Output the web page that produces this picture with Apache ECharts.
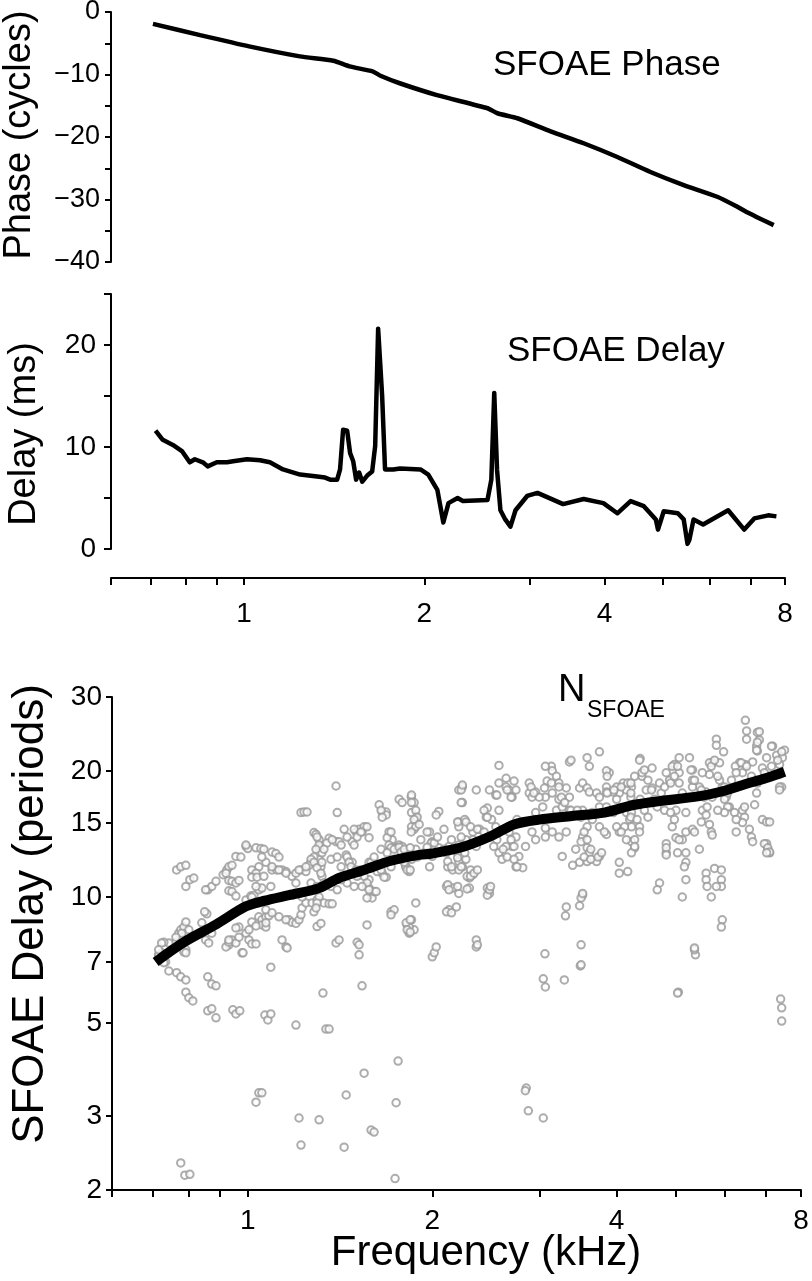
<!DOCTYPE html>
<html>
<head>
<meta charset="utf-8">
<script src="https://cdn.jsdelivr.net/npm/echarts@6/dist/echarts.min.js"></script>
<style>
html,body{margin:0;padding:0;background:#fff;}
#chart{width:812px;height:1281px;}
</style>
</head>
<body>
<div id="chart"></div>
<script>
// ---------- data ----------
const freqTicks = [0.6, 0.7, 0.8, 0.9, 1, 2, 3, 4, 5, 6, 7, 8];
const freqLabels = [1, 2, 4, 8];
const periodTicks = [2, 3, 5, 7, 10, 15, 20, 30];

const phaseFreq = [0.705, 0.845, 1.02, 1.24, 1.41, 1.50, 1.64, 1.69, 1.82, 2.10, 2.55, 2.65, 2.86, 3.25, 3.69, 4.2, 4.77, 5.42, 6.18, 6.67, 6.9, 7.66];
const phaseCycles = [-1.9, -3.7, -5.5, -7.1, -7.8, -8.7, -9.5, -10.2, -11.4, -13.3, -15.4, -16.2, -17.0, -19.1, -21.0, -23.2, -25.6, -27.7, -29.6, -31.2, -32.0, -34.1];

const delayFreq = [0.712, 0.732, 0.761, 0.788, 0.812, 0.828, 0.854, 0.870, 0.901, 0.937, 0.959, 1.012, 1.064, 1.105, 1.162, 1.241, 1.325, 1.366, 1.393, 1.431, 1.447, 1.464, 1.487, 1.504, 1.522, 1.539, 1.557, 1.576, 1.606, 1.637, 1.656, 1.675, 1.701, 1.720, 1.775, 1.823, 1.971, 2.031, 2.103, 2.152, 2.195, 2.273, 2.32, 2.55, 2.588, 2.617, 2.645, 2.68, 2.73, 2.785, 2.84, 2.97, 3.09, 3.41, 3.69, 3.98, 4.2, 4.42, 4.65, 4.87, 4.91, 5.02, 5.30, 5.42, 5.50, 5.54, 5.63, 5.84, 6.43, 6.84, 7.11, 7.50, 7.74];
const delayMs = [11.6, 10.7, 10.2, 9.6, 8.5, 8.8, 8.5, 8.1, 8.5, 8.5, 8.6, 8.8, 8.7, 8.5, 7.8, 7.3, 7.1, 7.0, 6.8, 6.8, 7.8, 11.7, 11.6, 9.4, 8.6, 6.8, 7.5, 6.6, 7.2, 7.6, 10.1, 21.6, 15.0, 7.8, 7.8, 7.9, 7.8, 7.3, 5.8, 2.6, 4.5, 5.0, 4.7, 4.8, 6.8, 15.3, 7.8, 3.8, 2.9, 2.2, 3.8, 5.2, 5.5, 4.4, 4.9, 4.5, 3.5, 4.7, 4.2, 2.9, 1.9, 3.7, 3.5, 2.9, 0.5, 0.9, 2.9, 2.4, 3.8, 1.9, 3.0, 3.3, 3.2];

const trendFreq = [0.707, 0.786, 0.887, 0.993, 1.066, 1.167, 1.307, 1.409, 1.548, 1.713, 1.904, 2.0, 2.256, 2.5, 2.72, 2.99, 3.38, 3.82, 4.2, 4.52, 5.46, 5.89, 6.5, 7.0, 7.52];
const trendPeriods = [7.0, 7.8, 8.6, 9.5, 9.8, 10.1, 10.5, 11.1, 11.6, 12.2, 12.6, 12.7, 13.2, 14.0, 14.9, 15.3, 15.6, 15.9, 16.5, 16.8, 17.4, 17.8, 18.6, 19.2, 19.9];

const scatterPoints = [
[0.765,11.6],[0.777,11.8],[0.792,11.9],[0.792,10.6],[0.804,11.0],[0.816,11.1],[0.86,10.4],[0.873,10.6],[0.887,10.9],[0.911,11.3],
[0.924,11.6],[0.931,11.8],[0.942,11.9],[0.956,12.5],[0.974,12.45],[0.993,13.2],[1.0,13.05],[1.031,13.1],[1.05,13.05],[1.062,13.0],
[1.095,12.8],[1.111,12.7],[1.124,12.45],[1.07,12.1],[1.042,11.8],[1.015,11.6],[1.031,11.4],[1.015,11.15],[1.035,11.15],[1.062,11.2],
[0.931,10.95],[0.942,10.9],[0.956,10.8],[0.967,10.95],[0.931,10.35],[0.942,10.3],[0.956,10.05],[0.993,9.84],[1.011,10.05],[1.023,10.1],
[1.042,10.4],[1.054,10.5],[1.09,10.6],[1.095,11.6],[1.115,11.6],[1.137,11.6],[1.154,11.5],[1.18,11.2],[1.198,11.4],[1.221,11.6],
[1.244,11.5],[1.268,12.1],[1.287,12.15],[1.307,12.3],[1.316,11.8],[1.282,14.25],[1.292,14.1],[1.307,13.7],[1.307,13.1],[1.321,12.75],
[1.321,11.2],[1.357,13.8],[1.393,13.55],[1.409,13.55],[1.393,18.4],[1.399,15.9],[1.221,15.9],[1.235,15.95],[1.249,15.95],[1.447,12.6],
[1.463,12.15],[1.48,13.55],[1.502,14.3],[1.519,14.5],[1.536,14.3],[1.548,14.7],[1.565,14.7],[1.638,16.6],[1.657,15.95],[1.682,15.95],
[1.682,15.7],[1.766,17.1],[1.786,16.8],[1.848,17.3],[1.868,16.8],[1.88,15.5],[1.868,14.5],[1.70,14.3],[1.72,13.7],[1.766,13.3],
[1.746,13.1],[1.786,13.2],[1.834,12.45],[1.813,11.8],[1.834,11.5],[1.657,11.4],[1.682,11.15],[1.626,11.5],[1.577,11.0],[1.56,10.6],
[1.577,10.5],[1.589,10.2],[1.595,9.95],[1.565,9.95],[1.607,10.3],[1.519,11.3],[1.491,11.4],[1.48,12.1],[1.577,12.1],[1.595,11.9],
[1.167,8.82],[1.18,8.7],[1.198,8.65],[1.212,8.82],[1.221,9.07],[1.226,9.42],[1.244,9.68],[1.273,9.68],[1.282,9.22],[1.297,9.84],
[1.307,10.0],[1.331,9.68],[1.357,9.63],[1.373,9.63],[1.297,8.5],[1.316,8.65],[1.393,7.77],[1.409,7.9],[1.508,7.8],[1.519,7.69],
[1.519,7.28],[1.565,8.58],[1.713,9.22],[1.733,9.32],[1.82,8.58],[1.834,8.2],[1.88,9.68],[1.868,8.35],[1.137,7.9],[1.154,7.6],
[1.159,7.56],[1.042,8.97],[1.054,8.82],[1.07,8.97],[1.082,9.02],[1.054,8.58],[1.07,8.48],[1.015,8.72],[1.031,8.53],[0.993,8.2],
[1.004,7.9],[1.015,7.73],[1.031,7.73],[0.978,7.36],[0.967,8.48],[0.956,8.44],[0.931,7.69],[0.921,7.6],[0.942,7.9],[0.931,7.8],
[0.956,7.77],[0.853,7.9],[0.863,7.77],[0.873,8.2],[0.857,9.12],[0.85,9.22],[0.841,8.68],[0.792,7.48],[0.763,7.8],[0.771,8.2],
[0.777,8.35],[0.786,8.48],[0.792,8.72],[0.743,7.77],[0.729,7.8],[0.723,7.36],[0.715,7.28],[0.734,7.0],[0.786,7.4],[1.09,6.8],
[0.715,7.24],[0.729,6.97],[0.743,6.66],[0.765,6.6],[0.777,6.45],[0.792,6.34],[0.792,5.93],[0.801,5.75],[0.813,5.65],[0.86,6.45],
[0.873,6.2],[0.887,6.14],[0.86,5.35],[0.873,5.41],[0.887,5.15],[0.945,5.38],[0.956,5.26],[0.97,5.35],[0.982,7.36],[1.066,5.23],
[1.078,5.09],[1.09,5.26],[1.198,4.95],[1.326,5.9],[1.341,4.84],[1.357,4.84],[1.536,6.14],[1.548,3.8],[1.759,4.06],[1.746,3.23],
[1.447,3.37],[1.307,2.94],[1.212,2.97],[1.221,2.56],[1.436,2.53],[1.589,2.78],[1.607,2.75],[1.739,2.13],[1.031,3.24],[1.042,3.41],
[1.054,3.41],[0.777,2.32],[0.789,2.17],[0.804,2.18],[0.792,7.36],
[2.0,7.2],[2.015,7.36],[3.055,7.32],[3.49,6.85],[3.036,6.38],[3.06,6.1],[3.286,6.34],[5.045,5.93],[5.38,7.28],[7.41,5.71],
[7.44,5.44],[7.44,5.06],[2.848,3.5],[2.838,3.45],[2.87,3.09],[3.036,2.97],
[6.49,26.4],[6.52,24.9],[6.52,23.8],[5.82,23.8],[5.82,23.0],[5.98,22.2],[6.79,24.7],[6.84,23.7],[6.77,22.9],[6.79,22.3],
[7.19,22.9],[7.3,21.8],[7.52,22.4],[7.46,21.5],[7.38,20.7],[7.44,18.3],[7.38,19.6],[7.03,21.5],[6.92,20.3],[6.67,21.0],
[6.49,20.7],[6.35,20.9],[6.25,20.5],[6.42,19.8],[6.67,19.0],[6.77,17.7],[6.72,16.6],[6.92,15.3],[7.03,15.1],[7.11,15.1],
[7.03,13.4],[7.06,13.0],[7.11,12.75],[6.59,14.5],[6.64,13.9],[6.67,13.55],[6.42,16.1],[6.47,15.5],[6.42,15.05],[6.27,14.3],
[6.11,16.4],[6.04,17.3],[5.95,18.3],[5.89,19.0],[5.67,19.6],[5.52,19.8],[5.46,18.3],[5.6,17.8],[5.73,17.3],[5.73,20.9],
[5.67,20.9],[5.89,20.9],[5.52,16.1],[5.6,15.7],[5.5,15.1],[5.67,14.9],[5.71,14.3],[5.73,14.05],[5.32,18.3],[5.32,19.0],
[5.32,20.1],[5.26,21.5],[5.06,21.5],[4.97,20.7],[5.06,19.8],[4.88,19.0],[4.7,18.7],[4.57,18.2],[4.47,18.0],[4.4,19.4],
[4.57,20.3],[4.37,21.4],[4.4,19.8],[4.23,18.3],[4.15,18.0],[4.04,17.7],[4.0,17.1],[3.95,17.8],[3.85,18.3],[3.89,19.8],
[3.75,22.2],[3.58,21.5],[3.61,20.5],[3.35,21.0],[3.13,20.5],[3.14,20.0],[3.19,19.4],[3.08,18.9],[3.22,18.7],[3.31,18.2],
[3.35,17.3],[3.48,18.2],[3.52,18.7],[3.58,18.2],[3.61,17.8],[3.71,17.7],[3.75,17.3],[3.85,17.8],[2.95,17.8],[2.88,18.7],
[2.88,17.7],[2.91,17.3],[3.06,17.3],[3.14,17.7],[3.22,17.1],[3.03,16.4],[2.95,15.9],[3.19,16.1],[3.26,16.4],[3.35,16.1],
[3.52,16.1],[3.65,15.9],[3.75,16.4],[3.85,16.4],[3.95,15.9],[4.07,16.3],[4.15,15.9],[4.23,15.9],[4.2,15.3],[4.23,14.7],
[4.36,14.7],[4.36,14.3],[4.23,13.55],[4.28,13.1],[4.23,12.75],[4.15,13.7],[4.04,14.3],[4.0,14.7],[3.85,14.1],[3.75,14.7],
[3.65,15.3],[3.58,14.7],[3.52,13.9],[3.5,13.55],[3.58,13.1],[3.61,12.75],[3.75,12.5],[3.71,12.15],[3.58,12.15],[3.48,12.1],
[3.39,11.9],[3.26,12.5],[3.43,13.0],[3.31,14.3],[3.22,13.9],[3.14,14.3],[3.06,13.9],[3.06,14.6],[3.03,15.3],[2.95,13.7],
[2.91,14.3],[2.84,13.2],[2.77,12.5],[2.74,11.8],[2.81,11.75],[2.7,13.2],[2.67,14.3],[2.74,13.9],[2.64,13.2],[2.57,12.75],
[2.6,12.3],[2.54,14.7],[2.5,15.3],[2.45,15.5],[2.57,16.1],[2.46,16.3],[2.39,14.5],[2.33,14.3],[2.33,13.7],[2.36,13.2],
[2.27,13.7],[2.21,13.3],[2.2,12.75],[2.21,12.15],[2.24,11.8],[2.27,12.3],[2.13,13.2],[2.11,12.75],[2.12,11.8],[2.16,11.6],
[2.05,13.1],[2.0,13.55],[1.98,14.3],[1.96,12.75],[2.0,12.5],[1.98,11.8],[1.88,13.0],[1.85,12.3],[1.81,11.8],[1.85,14.7],
[1.85,15.9],[1.88,15.3],[1.85,17.5],[1.85,16.8],[2.21,15.1],[2.24,16.8],[2.21,18.0],[2.24,18.3],[2.05,16.0],[2.03,15.7],
[2.36,18.0],[2.48,18.0],[2.54,17.5],[2.57,18.7],[2.64,19.2],[2.67,18.0],[2.7,17.3],[2.74,18.0],[2.57,20.6],[2.64,18.3],
[2.99,17.3],[3.06,20.5],[3.37,21.2],[3.85,20.0],[3.86,19.4],[4.0,18.3],[4.1,18.7],[4.36,21.2],[4.82,19.8],[4.93,20.5],
[5.06,18.7],[5.12,17.7],[5.0,16.1],[5.19,15.9],[4.93,14.7],[5.12,13.7],[5.19,12.75],[5.0,13.85],[4.82,13.4],[4.82,12.75],
[5.19,14.3],[5.32,14.5],[5.46,13.0],[5.19,12.1],[5.19,11.0],[5.12,10.0],[5.6,11.4],[5.6,11.0],[5.62,10.6],[5.71,10.0],
[5.78,11.7],[5.93,11.6],[5.93,11.0],[5.93,10.6],[5.82,10.6],[5.95,8.82],[5.93,8.48],[4.7,10.8],[4.66,10.4],[4.04,12.1],
[4.04,11.4],[4.17,11.5],[3.52,10.1],[3.5,9.95],[3.48,9.53],[3.31,9.47],[3.3,9.02],[3.5,7.69],[3.5,6.89],[2.36,7.9],
[2.36,7.6],[2.03,7.6],[1.85,8.82],[1.834,8.48],[2.13,9.32],[2.19,9.47],[2.11,9.22],[2.16,10.5],[2.21,10.2],[2.3,10.5],
[2.48,10.2],[2.46,10.5],[2.11,10.6],[2.3,11.1],[2.33,11.3],[2.21,11.6],[5.36,7.48],[4.82,13.1],
[1.297,13.9],[1.307,13.3],[1.292,13.0],[1.282,12.45],[1.268,12.3],[1.258,11.9],[1.282,12.1],[1.297,11.75],[1.316,11.4],[1.321,12.1],
[1.346,13.45],[1.373,13.7],[1.42,13.3],[1.452,12.45],[1.463,12.1],[1.474,11.8],[1.502,11.6],[1.53,11.6],[1.548,11.2],[1.565,10.8],
[1.577,10.4],[1.62,10.3],[1.536,10.6],[1.508,11.2],[1.491,14.5],[1.508,13.9],[1.53,14.3],[1.577,13.85],[1.491,13.3],[1.65,16.1],
[1.657,15.5],[1.688,13.85],[1.713,14.3],[1.70,13.3],[1.713,13.1],[1.733,13.0],[1.766,13.15],[1.779,12.8],[1.80,13.0],[1.841,13.1],
[1.88,16.1],[1.89,15.5],[1.868,15.3],[1.88,14.7],[1.848,14.3],[1.904,14.9],[1.962,14.3],[1.992,13.45],[2.015,13.45],[1.80,12.1],
[1.82,11.6],[1.841,11.6],[1.669,12.1],[1.65,11.6],[1.669,11.15],[1.713,11.8],[1.713,9.07],[1.813,8.68],[1.841,8.82],[1.82,8.35],
[1.841,8.25],[1.297,9.68],[1.292,9.42],[2.12,10.7],[2.13,10.4],[2.2,10.6],[2.15,9.17],[2.09,13.0],[2.12,12.15],[2.15,11.8],
[2.2,12.4],[2.23,11.8],[2.28,11.2],[2.31,11.6],[2.26,12.75],[2.23,13.9],[2.21,14.7],[2.2,15.1],[2.26,15.3],[2.27,15.1],
[2.23,16.8],[2.23,18.0],[2.24,18.5],[2.37,7.69],[3.52,10.2],[2.46,10.1],[2.48,10.4],[2.49,10.6],[2.28,10.45],[2.31,11.2],
[2.34,11.4],[2.37,11.6],[6.84,24.8],[6.79,23.4],[6.77,22.4],[7.16,22.9],[7.38,18.3],[7.38,18.0],[5.36,7.56],[5.03,5.9],
[5.16,11.8],[4.82,12.6],[5.03,12.75],[5.06,13.7],[5.36,14.3],[4.28,13.7],[4.28,13.2],[6.97,13.4],[7.06,13.1],[7.11,12.8],[7.03,12.75],
[2.72,18.9],[2.65,18.0],[2.69,17.3],[2.55,17.5],[2.43,16.1],[2.46,15.5],[2.31,14.7],[2.37,14.5],[2.43,14.3],[2.49,13.9],
[2.55,13.7],[2.52,13.2],[2.61,13.0],[2.65,12.45],[2.72,12.3],[2.75,11.8],[2.69,13.7],[2.72,13.2],[2.75,15.3],[2.9,18.3],
[2.93,17.7],[3.05,18.2],[3.13,18.7],[3.22,18.3],[3.25,17.3],[3.29,16.8],[3.37,16.1],[3.45,16.1],[3.5,15.5],[3.54,14.3],
[3.58,13.7],[3.63,13.0],[3.54,12.45],[3.63,12.3],[3.73,12.45],[3.78,12.75],[3.82,14.3],[3.86,17.7],[3.96,18.0],[4.07,18.3],
[4.17,18.7],[4.22,17.3],[4.17,16.4],[4.22,15.5],[4.12,14.7],[4.07,14.3],
[4.44,20.1],[4.5,19.0],[4.56,18.0],[4.61,17.1],[4.66,16.4],[4.73,17.7],[4.79,18.3],[4.9,18.7],[4.97,19.4],[5.03,20.5],
[5.29,20.1],[5.36,19.0],[5.5,18.0],[5.56,17.3],[5.62,16.4],[5.71,20.5],[5.78,21.2],[5.85,19.4],[6.0,18.3],[6.07,17.7],
[6.16,19.0],[6.27,19.8],[6.39,20.9],[6.52,20.5],[6.64,19.4],[6.79,18.7],[6.97,19.8],[7.16,20.5],[7.33,21.2],[7.44,22.2],
[6.0,17.1],[6.07,16.4],[6.23,15.9],[6.27,15.3],[6.47,16.4],[6.0,15.9],[5.85,16.1],[4.79,16.1],[4.9,15.9],[4.97,15.3],
[4.44,16.1],[4.5,15.5],[4.32,15.3],[4.37,17.1],[4.22,17.7],[4.22,18.7],[4.28,19.4],
[0.853,10.4],[0.921,11.4],[0.993,13.3],[1.054,12.45],[1.095,11.8],[1.124,11.6],[1.154,11.4],[1.212,11.6],[1.244,11.8],[1.198,10.8],
[1.226,10.0],[1.031,10.6],[1.015,10.0],[1.042,9.68],[1.07,9.32],[1.095,9.17],[1.124,8.97],[1.154,8.82],[1.07,8.68],[1.004,8.35],
[0.967,8.02],[0.931,7.9],[0.853,8.35],[0.801,8.35],[0.78,8.2],[0.763,8.02],[0.723,7.77],[0.715,7.48],
[1.331,13.0],[1.367,12.3],[1.399,12.45],[1.42,11.8],[1.436,11.2],[1.452,10.8],[1.491,10.6],[1.589,12.1],[1.607,12.45],[1.65,13.0],
[1.688,12.75],[1.733,12.3],[1.779,12.3],[1.89,12.45],[1.94,12.75],[1.962,13.15],[1.916,13.7],[2.04,13.9],[2.09,14.5],[2.15,13.7],
[1.436,14.5],[1.452,13.9],[1.268,10.8],[1.297,10.6],[1.331,10.8],[1.367,10.6],[1.399,10.4],[1.42,11.0]
];

// ---------- helpers ----------
const L2 = Math.log2, L10 = Math.log10;
const FONT = '"Liberation Sans", Arial, Helvetica, sans-serif';
const xMin = L2(0.6), xMax = L2(8);

const phaseData = phaseFreq.map((f, i) => [L2(f), phaseCycles[i]]);
const delayData = delayFreq.map((f, i) => [L2(f), delayMs[i]]);
const trendData = trendFreq.map((f, i) => [L2(f), L10(trendPeriods[i])]);
const scatterData = scatterPoints.map(p => [L2(p[0]), L10(p[1])]);

const axisLineStyle = { color: '#000', width: 2 };
const minus = v => (v < 0 ? '\u2212' + (-v) : String(v));

function freqAxis(gridIndex, offset, show, margin) {
  return {
    gridIndex, type: 'value', min: xMin, max: xMax, show, offset,
    axisLine: { show: true, onZero: false, lineStyle: axisLineStyle },
    axisTick: { show: true, inside: false, length: 7, lineStyle: axisLineStyle,
      customValues: freqTicks.map(L2) },
    axisLabel: { show: true, customValues: freqLabels.map(L2), margin: margin,
      color: '#000', fontSize: 28, fontFamily: FONT,
      formatter: v => String(Math.round(Math.pow(2, v))) },
    splitLine: { show: false }
  };
}

const chart = echarts.init(document.getElementById('chart'), null, { renderer: 'canvas' });
chart.setOption({
  animation: false,
  backgroundColor: '#fff',
  grid: [
    { left: 111, top: 12, width: 674, height: 250, outerBoundsMode: 'none' },
    { left: 111, top: 294, width: 674, height: 255, outerBoundsMode: 'none' },
    { left: 112, top: 697, width: 689, height: 493, outerBoundsMode: 'none' }
  ],
  xAxis: [
    freqAxis(0, 0, false, 14),
    freqAxis(1, 29, true, 22),
    freqAxis(2, 0, true, 17)
  ],
  yAxis: [
    { gridIndex: 0, type: 'value', min: -40, max: 0, interval: 5,
      axisLine: { show: true, onZero: false, lineStyle: axisLineStyle },
      axisTick: { show: true, length: 6, lineStyle: axisLineStyle },
      axisLabel: { margin: 11, color: '#000', fontSize: 27, fontFamily: FONT,
        formatter: v => (v % 10 === 0 ? minus(v) : '') },
      splitLine: { show: false } },
    { gridIndex: 1, type: 'value', min: 0, max: 25, interval: 5,
      axisLine: { show: true, onZero: false, lineStyle: axisLineStyle },
      axisTick: { show: true, length: 7, lineStyle: axisLineStyle },
      axisLabel: { margin: 15, color: '#000', fontSize: 28, fontFamily: FONT,
        formatter: v => (v % 10 === 0 ? String(v) : '') },
      splitLine: { show: false } },
    { gridIndex: 2, type: 'value', min: L10(2), max: L10(30),
      axisLine: { show: true, onZero: false, lineStyle: axisLineStyle },
      axisTick: { show: true, length: 6, lineStyle: axisLineStyle,
        customValues: periodTicks.map(L10) },
      axisLabel: { margin: 10, color: '#000', fontSize: 28, fontFamily: FONT,
        customValues: periodTicks.map(L10),
        formatter: v => String(Math.round(Math.pow(10, v))) },
      splitLine: { show: false } }
  ],
  series: [
    { type: 'line', xAxisIndex: 0, yAxisIndex: 0, data: phaseData, showSymbol: false,
      smooth: 0.2, lineStyle: { color: '#000', width: 4.5 } },
    { type: 'line', xAxisIndex: 1, yAxisIndex: 1, data: delayData, showSymbol: false,
      lineStyle: { color: '#000', width: 4.5, join: 'round' } },
    { type: 'scatter', xAxisIndex: 2, yAxisIndex: 2, data: scatterData,
      symbol: 'emptyCircle', symbolSize: 7.5,
      itemStyle: { color: '#999999', borderWidth: 1.8 } },
    { type: 'line', xAxisIndex: 2, yAxisIndex: 2, data: trendData, showSymbol: false,
      smooth: 0.3, lineStyle: { color: '#000', width: 10 }, z: 5 }
  ],
  graphic: [
    { type: 'text', x: 493, y: 65, style: { text: 'SFOAE Phase', font: '35px ' + FONT, fill: '#000', align: 'left', verticalAlign: 'middle' } },
    { type: 'text', x: 507, y: 351, style: { text: 'SFOAE Delay', font: '35px ' + FONT, fill: '#000', align: 'left', verticalAlign: 'middle' } },
    { type: 'text', x: 558, y: 691, style: { text: 'N', font: '38px ' + FONT, fill: '#000', align: 'left', verticalAlign: 'middle' } },
    { type: 'text', x: 587, y: 711, style: { text: 'SFOAE', font: '23px ' + FONT, fill: '#000', align: 'left', verticalAlign: 'middle' } },
    { type: 'text', x: 20, y: 135, rotation: Math.PI / 2, style: { text: 'Phase (cycles)', font: '38px ' + FONT, fill: '#000', align: 'center', verticalAlign: 'middle' } },
    { type: 'text', x: 25, y: 434, rotation: Math.PI / 2, style: { text: 'Delay (ms)', font: '38px ' + FONT, fill: '#000', align: 'center', verticalAlign: 'middle' } },
    { type: 'text', x: 31, y: 914, rotation: Math.PI / 2, style: { text: 'SFOAE Delay (periods)', font: '44px ' + FONT, fill: '#000', align: 'center', verticalAlign: 'middle' } },
    { type: 'text', x: 486, y: 1253, style: { text: 'Frequency (kHz)', font: '42px ' + FONT, fill: '#000', align: 'center', verticalAlign: 'middle' } }
  ]
});
</script>
</body>
</html>
